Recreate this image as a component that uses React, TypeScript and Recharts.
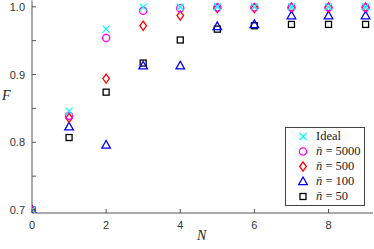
import { Scatter, ScatterChart, XAxis, YAxis } from "recharts";

const nValues = [0, 1, 2, 3, 4, 5, 6, 7, 8, 9];
const ideal = [0.7, 0.846, 0.967, 0.9995, 0.9998, 1.0, 1.0, 1.0, 1.0, 1.0];
const n5000 = [0.7, 0.839, 0.954, 0.994, 0.998, 0.999, 0.999, 0.999, 0.999, 0.999];
const n500 = [0.699, 0.836, 0.894, 0.972, 0.987, 0.998, 0.998, 0.999, 0.999, 0.999];
const n100 = [0.7, 0.823, 0.796, 0.913, 0.913, 0.971, 0.974, 0.987, 0.987, 0.987];
const n50 = [0.7, 0.807, 0.874, 0.917, 0.951, 0.967, 0.972, 0.974, 0.974, 0.974];

const xTicks = [0, 2, 4, 6, 8];
const yTicks = [0.7, 0.75, 0.8, 0.85, 0.9, 0.95, 1.0];

const axisColor = "#555";
const labelColor = "#333";

const toPoints = (vals: number[]) => nValues.map((n, i) => ({ n, f: vals[i] }));

type Mk = { cx?: number; cy?: number };

const Cross = ({ cx = 0, cy = 0 }: Mk) => (
    <g stroke="#00FFFF" strokeWidth={1.3}>
        <line x1={cx - 3.5} y1={cy - 3.5} x2={cx + 3.5} y2={cy + 3.5} />
        <line x1={cx - 3.5} y1={cy + 3.5} x2={cx + 3.5} y2={cy - 3.5} />
    </g>
);
const Circle = ({ cx = 0, cy = 0 }: Mk) => (
    <circle cx={cx} cy={cy} r={3.6} fill="none" stroke="#FF00FF" strokeWidth={1.3} />
);
const Diamond = ({ cx = 0, cy = 0 }: Mk) => (
    <polygon points={`${cx},${cy - 4.6} ${cx + 3.3},${cy} ${cx},${cy + 4.6} ${cx - 3.3},${cy}`} fill="none" stroke="#FF0000" strokeWidth={1.3} />
);
const Triangle = ({ cx = 0, cy = 0 }: Mk) => (
    <polygon points={`${cx},${cy - 4.5} ${cx + 4.3},${cy + 3.2} ${cx - 4.3},${cy + 3.2}`} fill="none" stroke="#0000FF" strokeWidth={1.3} />
);
const Square = ({ cx = 0, cy = 0 }: Mk) => (
    <rect x={cx - 3} y={cy - 3} width={6} height={6} fill="none" stroke="#000" strokeWidth={1.3} />
);

const series = [
    { name: "50", data: n50, Shape: Square },
    { name: "100", data: n100, Shape: Triangle },
    { name: "500", data: n500, Shape: Diamond },
    { name: "5000", data: n5000, Shape: Circle },
    { name: "Ideal", data: ideal, Shape: Cross },
];

const legendItems = [
    { label: "Ideal", Shape: Cross },
    { label: "5000", Shape: Circle },
    { label: "500", Shape: Diamond },
    { label: "100", Shape: Triangle },
    { label: "50", Shape: Square },
];

const BottomTick = (p: any) => (
    <g>
        <line x1={p.x} y1={p.y} x2={p.x} y2={p.y - 4} stroke={axisColor} />
        <text x={p.x} y={p.y + 16} textAnchor="middle" fontSize={11} fill={labelColor} fontFamily="Liberation Sans, Arial, sans-serif">
            {p.payload.value}
        </text>
    </g>
);
const TopTick = (p: any) => <line x1={p.x} y1={p.y} x2={p.x} y2={p.y + 4} stroke={axisColor} />;
const LeftTick = (p: any) => {
    const v = p.payload.value as number;
    const major = Math.abs(v * 10 - Math.round(v * 10)) < 1e-6;
    return (
        <g>
            <line x1={p.x} y1={p.y} x2={p.x + 4} y2={p.y} stroke={axisColor} />
            {major && (
                <text x={p.x - 7} y={p.y + 4} textAnchor="end" fontSize={11} fill={labelColor} fontFamily="Liberation Sans, Arial, sans-serif">
                    {v.toFixed(1)}
                </text>
            )}
        </g>
    );
};
const RightTick = (p: any) => <line x1={p.x} y1={p.y} x2={p.x - 4} y2={p.y} stroke={axisColor} />;

export default function App() {
    return (
        <div style={{ position: "absolute", left: 0, top: 0, width: 374, height: 249 }}>
            <ScatterChart width={374} height={249} margin={{ top: 0.5, right: 1, bottom: 0, left: 0 }}>
                <XAxis xAxisId="b" dataKey="n" type="number" domain={[0, 9.2]} allowDataOverflow ticks={xTicks} interval={0}
                    height={36} tickSize={0} tickMargin={0} tickLine={false} tick={BottomTick} stroke={axisColor} />
                <XAxis xAxisId="t" orientation="top" dataKey="n" type="number" domain={[0, 9.2]} allowDataOverflow ticks={xTicks} interval={0}
                    height={0} tickSize={0} tickMargin={0} tickLine={false} tick={TopTick} stroke={axisColor} />
                <YAxis yAxisId="l" dataKey="f" type="number" domain={[0.6956, 1.0093]} allowDataOverflow ticks={yTicks} interval={0}
                    width={32} tickSize={0} tickMargin={0} tickLine={false} tick={LeftTick} stroke={axisColor} />
                <YAxis yAxisId="r" orientation="right" dataKey="f" type="number" domain={[0.6956, 1.0093]} allowDataOverflow ticks={yTicks} interval={0}
                    width={0} tickSize={0} tickMargin={0} tickLine={false} tick={RightTick} stroke={axisColor} />
                {series.map(s => (
                    <Scatter key={s.name} xAxisId="b" yAxisId="l" data={toPoints(s.data)} isAnimationActive={false}
                        shape={(props: any) => <s.Shape cx={props.cx} cy={props.cy} />} />
                ))}
            </ScatterChart>
            <div style={{ position: "absolute", left: 2, top: 88, fontFamily: "Liberation Serif, serif", fontStyle: "italic", fontSize: 14, color: "#222" }}>F</div>
            <div style={{ position: "absolute", left: 197, top: 228, fontFamily: "Liberation Serif, serif", fontStyle: "italic", fontSize: 14, color: "#222" }}>N</div>
            <div style={{ position: "absolute", left: 285, top: 127, width: 78, height: 77, border: "1px solid #444", background: "#fff", fontFamily: "Liberation Serif, serif", fontSize: 12.5, color: "#222" }}>
                {legendItems.map((it, i) => (
                    <div key={it.label} style={{ position: "absolute", left: 0, top: 1 + i * 15, height: 15, width: 78, display: "flex", alignItems: "center" }}>
                        <svg width={30} height={15} style={{ flex: "none" }}>
                            <it.Shape cx={17} cy={7.5} />
                        </svg>
                        {it.label === "Ideal" ? <span>Ideal</span> : <span><i>n̄</i> = {it.label}</span>}
                    </div>
                ))}
            </div>
        </div>
    );
}
